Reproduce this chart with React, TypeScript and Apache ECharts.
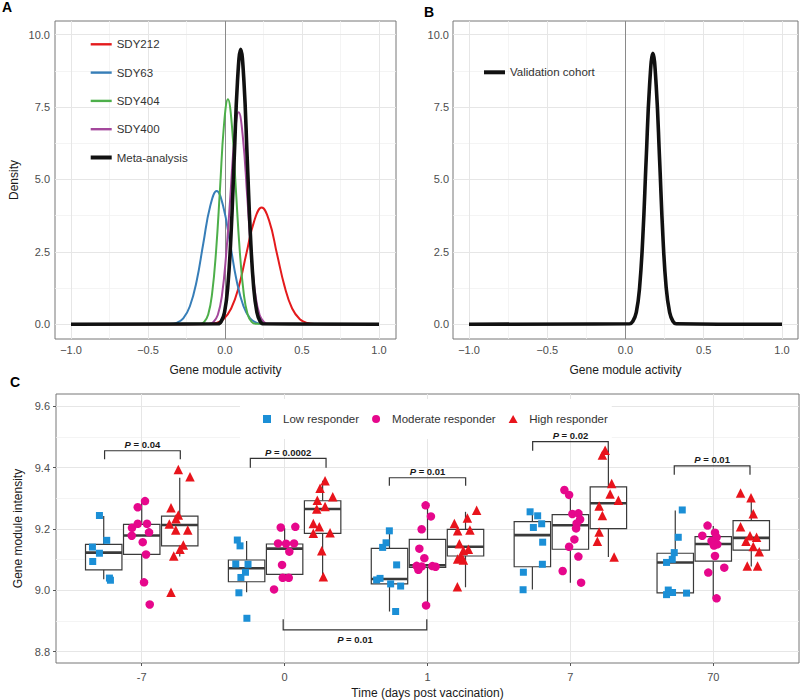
import React, { useEffect, useRef } from 'react';
import * as echarts from 'echarts';

const FONT = '"Liberation Sans", Arial, Helvetica, sans-serif';

// ---------- Panel A / B : density curves, [gene module activity, density] ----------
const sdy212 = [[-1, 0], [-0.109, 0.009], [-0.059, 0.045], [-0.01, 0.177], [0.04, 0.545], [0.09, 1.309], [0.139, 2.444], [0.189, 3.556], [0.238, 4.03], [0.288, 3.556], [0.337, 2.444], [0.387, 1.309], [0.436, 0.545], [0.486, 0.177], [0.535, 0.045], [0.585, 0.009], [1, 0]];
const sdy63 = [[-1, 0], [-0.358, 0.01], [-0.314, 0.051], [-0.271, 0.202], [-0.228, 0.622], [-0.184, 1.494], [-0.141, 2.79], [-0.097, 4.06], [-0.054, 4.6], [-0.011, 4.06], [0.033, 2.79], [0.076, 1.494], [0.12, 0.622], [0.163, 0.202], [0.206, 0.051], [0.25, 0.01], [1, 0]];
const sdy404 = [[-1, 0], [-0.161, 0.017], [-0.135, 0.086], [-0.109, 0.341], [-0.084, 1.051], [-0.058, 2.523], [-0.032, 4.713], [-0.007, 6.857], [0.019, 7.77], [0.045, 6.857], [0.07, 4.713], [0.096, 2.523], [0.122, 1.051], [0.147, 0.341], [0.173, 0.086], [0.199, 0.017], [1, 0]];
const sdy400 = [[-1, 0], [-0.102, 0.016], [-0.075, 0.081], [-0.047, 0.321], [-0.02, 0.99], [0.007, 2.377], [0.035, 4.44], [0.062, 6.46], [0.089, 7.32], [0.116, 6.46], [0.144, 4.44], [0.171, 2.377], [0.198, 0.99], [0.225, 0.321], [0.253, 0.081], [0.28, 0.016], [1, 0]];
const metaCurve = [[-1, 0], [-0.045, 0.021], [-0.024, 0.105], [-0.003, 0.417], [0.018, 1.285], [0.039, 3.085], [0.06, 5.762], [0.081, 8.384], [0.102, 9.5], [0.123, 8.384], [0.144, 5.762], [0.165, 3.085], [0.186, 1.285], [0.207, 0.417], [0.228, 0.105], [0.249, 0.021], [1, 0]];
const validationCurve = [[-1, 0], [0.026, 0.021], [0.047, 0.104], [0.069, 0.411], [0.09, 1.266], [0.111, 3.039], [0.132, 5.677], [0.154, 8.26], [0.175, 9.36], [0.196, 8.26], [0.218, 5.677], [0.239, 3.039], [0.26, 1.266], [0.282, 0.411], [0.303, 0.104], [0.324, 0.021], [1, 0]];

const curveNames = ['SDY212', 'SDY63', 'SDY404', 'SDY400', 'Meta-analysis'];
const activityTicks = [-1, -0.5, 0, 0.5, 1];
const activityMinor = [-0.75, -0.25, 0.25, 0.75];
const densityTicks = [0, 2.5, 5, 7.5, 10];
const densityMinor = [1.25, 3.75, 6.25, 8.75];

// ---------- Panel C ----------
const timeLabels = ['-7', '0', '1', '7', '70'];
const intensityTicks = [8.8, 9.0, 9.2, 9.4, 9.6];
const intensityMinor = [8.9, 9.1, 9.3, 9.5];
const groupNames = ['Low responder', 'Moderate responder', 'High responder'];

// jittered points per time point: [offset from time point, intensity]
const lowPoints = [
  [[-0.296, 9.244], [-0.245, 9.163], [-0.345, 9.141], [-0.296, 9.121], [-0.343, 9.094], [-0.226, 9.04], [-0.219, 9.033]],
  [[-0.331, 9.164], [-0.312, 9.145], [-0.342, 9.086], [-0.256, 9.085], [-0.274, 9.059], [-0.306, 9.042], [-0.32, 8.992], [-0.264, 8.909]],
  [[-0.267, 9.194], [-0.29, 9.155], [-0.314, 9.14], [-0.216, 9.083], [-0.332, 9.039], [-0.356, 9.034], [-0.258, 9.021], [-0.188, 9.014], [-0.223, 8.931]],
  [[-0.282, 9.256], [-0.229, 9.243], [-0.201, 9.217], [-0.259, 9.205], [-0.194, 9.157], [-0.196, 9.085], [-0.329, 9.059], [-0.331, 9.002]],
  [[-0.217, 9.262], [-0.245, 9.173], [-0.273, 9.123], [-0.287, 9.101], [-0.327, 9.091], [-0.315, 9.001], [-0.285, 8.993], [-0.327, 8.986], [-0.187, 8.991]],
];
const moderatePoints = [
  [[-0.028, 9.271], [0.023, 9.291], [-0.068, 9.204], [-0.028, 9.217], [0.037, 9.217], [0.051, 9.189], [-0.07, 9.178], [0.007, 9.157], [0.03, 9.117], [0.016, 9.026], [0.056, 8.954]],
  [[-0.027, 9.205], [0.075, 9.207], [-0.046, 9.153], [0.01, 9.152], [0.066, 9.153], [0.033, 9.126], [-0.018, 9.083], [-0.013, 9.041], [0.029, 9.041], [-0.074, 9.003]],
  [[-0.013, 9.277], [0.024, 9.241], [-0.041, 9.199], [-0.057, 9.136], [-0.022, 9.105], [-0.076, 9.08], [-0.041, 9.078], [-0.064, 9.067], [0.034, 9.079], [0.057, 9.077], [-0.01, 8.951]],
  [[-0.042, 9.327], [-0.009, 9.311], [0.014, 9.249], [0.056, 9.251], [0.068, 9.231], [0.044, 9.218], [0.04, 9.202], [0.028, 9.166], [-0.009, 9.142], [0.056, 9.11], [-0.054, 9.063], [0.075, 9.025]],
  [[-0.04, 9.211], [-0.077, 9.178], [0.012, 9.188], [0.023, 9.173], [-0.012, 9.161], [0.028, 9.15], [0.005, 9.146], [0.012, 9.112], [0.077, 9.074], [-0.035, 9.058], [0.023, 8.974]],
];
const highPoints = [
  [[0.256, 9.394], [0.338, 9.37], [0.205, 9.269], [0.256, 9.246], [0.24, 9.233], [0.193, 9.216], [0.238, 9.197], [0.322, 9.197], [0.291, 9.148], [0.268, 9.134], [0.224, 9.112], [0.205, 8.994]],
  [[0.283, 9.357], [0.248, 9.333], [0.337, 9.305], [0.229, 9.294], [0.283, 9.273], [0.225, 9.265], [0.201, 9.218], [0.243, 9.207], [0.318, 9.188], [0.201, 9.186], [0.26, 9.129], [0.271, 9.044]],
  [[0.344, 9.261], [0.279, 9.236], [0.188, 9.218], [0.297, 9.197], [0.211, 9.194], [0.223, 9.152], [0.286, 9.134], [0.251, 9.13], [0.234, 9.11], [0.211, 9.102], [0.251, 9.099], [0.209, 9.012]],
  [[0.243, 9.457], [0.224, 9.441], [0.289, 9.348], [0.278, 9.314], [0.336, 9.294], [0.201, 9.275], [0.224, 9.244], [0.201, 9.19], [0.189, 9.16], [0.306, 9.109]],
  [[0.191, 9.317], [0.264, 9.302], [0.28, 9.25], [0.191, 9.207], [0.257, 9.178], [0.303, 9.173], [0.229, 9.16], [0.28, 9.143], [0.322, 9.126], [0.238, 9.079], [0.31, 9.079]],
];

// box statistics per time point: [lower whisker, Q1, median, Q3, upper whisker]
const lowBox = [[9.036, 9.067, 9.123, 9.15, 9.242], [8.994, 9.028, 9.072, 9.099, 9.161], [8.931, 9.021, 9.037, 9.137, 9.194], [9.003, 9.077, 9.18, 9.224, 9.253], [8.99, 8.992, 9.091, 9.121, 9.26]];
const moderateBox = [[9.024, 9.117, 9.179, 9.215, 9.294], [9.034, 9.052, 9.136, 9.151, 9.203], [8.951, 9.075, 9.082, 9.166, 9.277], [9.025, 9.134, 9.212, 9.247, 9.32], [8.974, 9.095, 9.151, 9.175, 9.21]];
const highBox = [[9.11, 9.145, 9.213, 9.242, 9.367], [9.044, 9.186, 9.265, 9.292, 9.357], [9.01, 9.112, 9.142, 9.199, 9.256], [9.109, 9.201, 9.284, 9.337, 9.457], [9.078, 9.131, 9.171, 9.227, 9.303]];

// significance brackets: [x start, x end, bar level, tip level]
const bracketSpans = [[0.74, 1.27, 9.455, 9.427], [1.76, 2.29, 9.43, 9.4], [2.733, 3.267, 9.367, 9.341], [3.736, 4.265, 9.485, 9.455], [4.727, 5.257, 9.406, 9.377], [1.99, 2.995, 8.871, 8.906]];
const bracketP = ['0.04', '0.0002', '0.01', '0.02', '0.01', '0.01'];

// ---------- styles ----------
const curveColors = ['#e41a1c', '#377eb8', '#4daf4a', '#a4489c', '#111111'];
const curveWidths = [2, 2, 2, 2, 3.6];
const groupColors = ['#1b8fd6', '#e6078c', '#e8141c'];
const groupSymbols = ['rect', 'circle', 'triangle'];
const groupSizes = [7, 8.5, 9.5];
const groupIcons = ['path://M0,0H8V8H0Z', 'path://M4,0A4,4,0,1,1,4,8A4,4,0,1,1,4,0Z', 'path://M4.5,0L9,8L0,8Z'];
const groupOffset = [-0.266, 0, 0.266];
const boxWidth = 0.255;

const majorGrid = { color: '#e6e6e6', width: 1, type: 'solid' };
const minorGrid = { color: '#f1f1f1', width: 0.8, type: 'solid' };
const zeroLine = { color: '#8a8a8a', width: 1, type: 'solid' };

const fmt1 = (v: number) => (v < 0 ? '\u2212' : '') + Math.abs(v).toFixed(1);

function valueAxis(grid: number, min: number, max: number, ticks: number[], formatter: any, margin: number, name: string, nameGap: number) {
  return {
    type: 'value',
    gridIndex: grid,
    min,
    max,
    axisLine: { show: false },
    splitLine: { show: false },
    axisTick: { show: true, customValues: ticks, length: 3, lineStyle: { color: '#555', width: 1 } },
    axisLabel: { show: true, customValues: ticks, formatter, color: '#4d4d4d', fontSize: 11, fontFamily: FONT, margin },
    name,
    nameLocation: 'middle',
    nameGap,
    nameTextStyle: { color: '#1a1a1a', fontSize: 12, fontFamily: FONT },
  };
}

function gridSeries(grid: number, vMajor: number[], vMinor: number[], hMajor: number[], hMinor: number[], zero: boolean) {
  const data: any[] = [];
  vMinor.forEach((v) => data.push({ xAxis: v, lineStyle: minorGrid }));
  hMinor.forEach((v) => data.push({ yAxis: v, lineStyle: minorGrid }));
  vMajor.forEach((v) => data.push({ xAxis: v, lineStyle: majorGrid }));
  hMajor.forEach((v) => data.push({ yAxis: v, lineStyle: majorGrid }));
  if (zero) data.push({ xAxis: 0, lineStyle: zeroLine });
  return {
    type: 'line',
    name: 'grid' + grid,
    xAxisIndex: grid,
    yAxisIndex: grid,
    data: [],
    silent: true,
    z: 1,
    markLine: {
      silent: true,
      symbol: ['none', 'none'],
      label: { show: false },
      lineStyle: { type: 'solid' },
      emphasis: { disabled: true },
      animation: false,
      z: 1,
      data,
    },
  };
}

function buildOption() {
  const curves = [sdy212, sdy63, sdy404, sdy400, metaCurve];
  const lineLegendIcon = (w: number) => 'path://M0,0H21V' + w + 'H0Z';

  const series: any[] = [];
  series.push(gridSeries(0, activityTicks, activityMinor, densityTicks, densityMinor, true));
  curves.forEach((d, i) =>
    series.push({
      type: 'line',
      name: curveNames[i],
      xAxisIndex: 0,
      yAxisIndex: 0,
      data: d,
      smooth: 0.45,
      symbol: 'none',
      z: 2 + i * 0.01,
      itemStyle: { color: curveColors[i] },
      lineStyle: { color: curveColors[i], width: curveWidths[i] },
    })
  );
  series.push(gridSeries(1, activityTicks, activityMinor, densityTicks, densityMinor, true));
  series.push({
    type: 'line',
    name: 'Validation cohort',
    xAxisIndex: 1,
    yAxisIndex: 1,
    data: validationCurve,
    smooth: 0.45,
    symbol: 'none',
    z: 2,
    itemStyle: { color: '#111' },
    lineStyle: { color: '#111', width: 3.6 },
  });

  series.push(gridSeries(2, [1, 2, 3, 4, 5], [], intensityTicks, intensityMinor, false));

  const boxData: number[][] = [];
  [lowBox, moderateBox, highBox].forEach((stats, g) =>
    stats.forEach((s, i) => boxData.push([i + 1 + groupOffset[g], ...s]))
  );
  series.push({
    type: 'custom',
    name: 'boxes',
    xAxisIndex: 2,
    yAxisIndex: 2,
    data: boxData,
    z: 2,
    silent: true,
    clip: true,
    renderItem: (params: any, api: any) => {
      const x = api.value(0);
      const c = api.coord([x, api.value(3)]);
      const yMin = api.coord([x, api.value(1)])[1];
      const yQ1 = api.coord([x, api.value(2)])[1];
      const yMed = c[1];
      const yQ3 = api.coord([x, api.value(4)])[1];
      const yMax = api.coord([x, api.value(5)])[1];
      const w = api.size([boxWidth, 0])[0];
      const stroke = '#3a3a3a';
      return {
        type: 'group',
        children: [
          { type: 'line', shape: { x1: c[0], y1: yMax, x2: c[0], y2: yQ3 }, style: { stroke, lineWidth: 1.2 } },
          { type: 'line', shape: { x1: c[0], y1: yQ1, x2: c[0], y2: yMin }, style: { stroke, lineWidth: 1.2 } },
          { type: 'rect', shape: { x: c[0] - w / 2, y: yQ3, width: w, height: yQ1 - yQ3 }, style: { fill: '#fff', stroke, lineWidth: 1.2 } },
          { type: 'line', shape: { x1: c[0] - w / 2, y1: yMed, x2: c[0] + w / 2, y2: yMed }, style: { stroke, lineWidth: 2.6 } },
        ],
      };
    },
  });

  [lowPoints, moderatePoints, highPoints].forEach((pts, g) =>
    series.push({
      type: 'scatter',
      name: groupNames[g],
      xAxisIndex: 2,
      yAxisIndex: 2,
      data: pts.flatMap((cat, i) => cat.map(([dx, v]) => [i + 1 + dx, v])),
      symbol: groupSymbols[g],
      symbolSize: groupSizes[g],
      z: 3,
      itemStyle: { color: groupColors[g], opacity: 1, borderWidth: 0 },
    })
  );

  series.push({
    type: 'custom',
    name: 'brackets',
    xAxisIndex: 2,
    yAxisIndex: 2,
    data: bracketSpans,
    z: 6,
    silent: true,
    clip: false,
    renderItem: (params: any, api: any) => {
      const x1 = api.value(0);
      const x2 = api.value(1);
      const yb = api.value(2);
      const ye = api.value(3);
      const p1 = api.coord([x1, ye]);
      const p2 = api.coord([x1, yb]);
      const p3 = api.coord([x2, yb]);
      const p4 = api.coord([x2, ye]);
      const above = ye < yb;
      const label = bracketP[params.dataIndex];
      const tok = { fontWeight: 'bold', fontSize: 9.5, fontFamily: FONT, fill: '#1a1a1a', color: '#1a1a1a' };
      return {
        type: 'group',
        children: [
          { type: 'polyline', shape: { points: [p1, p2, p3, p4] }, style: { stroke: '#333', lineWidth: 1.2, fill: 'none' } },
          {
            type: 'text',
            style: {
              text: '{i|P}{b| = ' + label + '}',
              x: (p2[0] + p3[0]) / 2,
              y: above ? p2[1] - 6 : p2[1] + 10,
              align: 'center',
              verticalAlign: 'middle',
              fontSize: 9.5,
              fontFamily: FONT,
              rich: { i: { ...tok, fontStyle: 'italic' }, b: tok },
            },
          },
        ],
      };
    },
  });

  const gridBase = { show: true, borderColor: '#777', borderWidth: 1, backgroundColor: 'transparent', containLabel: false, outerBoundsMode: 'none' };

  return {
    animation: false,
    backgroundColor: '#fff',
    textStyle: { fontFamily: FONT },
    grid: [
      { ...gridBase, left: 55, top: 21, width: 341, height: 318 },
      { ...gridBase, left: 453, top: 21, width: 345, height: 318 },
      { ...gridBase, left: 56, top: 394, width: 743, height: 269 },
    ],
    xAxis: [
      valueAxis(0, -1.1039, 1.1104, activityTicks, fmt1, 5, 'Gene module activity', 25),
      valueAxis(1, -1.1022, 1.1023, activityTicks, fmt1, 5, 'Gene module activity', 25),
      valueAxis(2, 0.4, 5.6, [1, 2, 3, 4, 5], (v: number) => timeLabels[Math.round(v) - 1], 8, 'Time (days post vaccination)', 24),
    ],
    yAxis: [
      valueAxis(0, -0.508, 10.473, densityTicks, fmt1, 5, 'Density', 35),
      valueAxis(1, -0.508, 10.473, densityTicks, fmt1, 4, '', 35),
      valueAxis(2, 8.7632, 9.64, intensityTicks, fmt1, 6, 'Gene module intensity', 29),
    ],
    legend: [
      {
        orient: 'vertical',
        left: 90.7,
        top: 37.3,
        padding: 0,
        itemWidth: 21,
        itemHeight: 14,
        itemGap: 14.3,
        selectedMode: false,
        symbolKeepAspect: true,
        itemStyle: { borderWidth: 0 },
        textStyle: { fontSize: 11.5, color: '#333', fontFamily: FONT, lineHeight: 14 },
        data: curveNames.map((n, i) => ({ name: n, icon: lineLegendIcon(curveWidths[i] + 0.4), itemStyle: { color: curveColors[i], borderWidth: 0 } })),
      },
      {
        orient: 'vertical',
        left: 484,
        top: 65.3,
        padding: 0,
        itemWidth: 21,
        itemHeight: 14,
        selectedMode: false,
        symbolKeepAspect: true,
        itemStyle: { borderWidth: 0 },
        textStyle: { fontSize: 11.5, color: '#333', fontFamily: FONT, lineHeight: 14 },
        data: [{ name: 'Validation cohort', icon: lineLegendIcon(4), itemStyle: { color: '#111', borderWidth: 0 } }],
      },
      {
        orient: 'horizontal',
        left: 240,
        top: 399,
        padding: [14, 4, 14, 23],
        backgroundColor: '#fff',
        itemWidth: 22,
        itemHeight: 8,
        itemGap: 13,
        selectedMode: false,
        symbolKeepAspect: true,
        itemStyle: { borderWidth: 0 },
        textStyle: { fontSize: 11.5, color: '#333', fontFamily: FONT },
        data: groupNames.map((n, i) => ({ name: n, icon: groupIcons[i], itemStyle: { color: groupColors[i], borderWidth: 0 } })),
      },
    ],
    graphic: [
      { type: 'text', x: 7, y: 7, style: { text: 'A', fontSize: 14, fontWeight: 'bold', fontFamily: FONT, fill: '#000', align: 'center', verticalAlign: 'middle' } },
      { type: 'text', x: 429, y: 12, style: { text: 'B', fontSize: 14, fontWeight: 'bold', fontFamily: FONT, fill: '#000', align: 'center', verticalAlign: 'middle' } },
      { type: 'text', x: 15, y: 382, style: { text: 'C', fontSize: 14, fontWeight: 'bold', fontFamily: FONT, fill: '#000', align: 'center', verticalAlign: 'middle' } },
    ],
    series,
  };
}

export default function App() {
  const ref = useRef<HTMLDivElement>(null);
  useEffect(() => {
    if (!ref.current) return;
    const chart = echarts.init(ref.current, null, { renderer: 'svg' });
    chart.setOption(buildOption() as any);
    return () => chart.dispose();
  }, []);
  return <div ref={ref} style={{ position: 'fixed', left: 0, top: 0, width: 800, height: 700, background: '#fff' }} />;
}
